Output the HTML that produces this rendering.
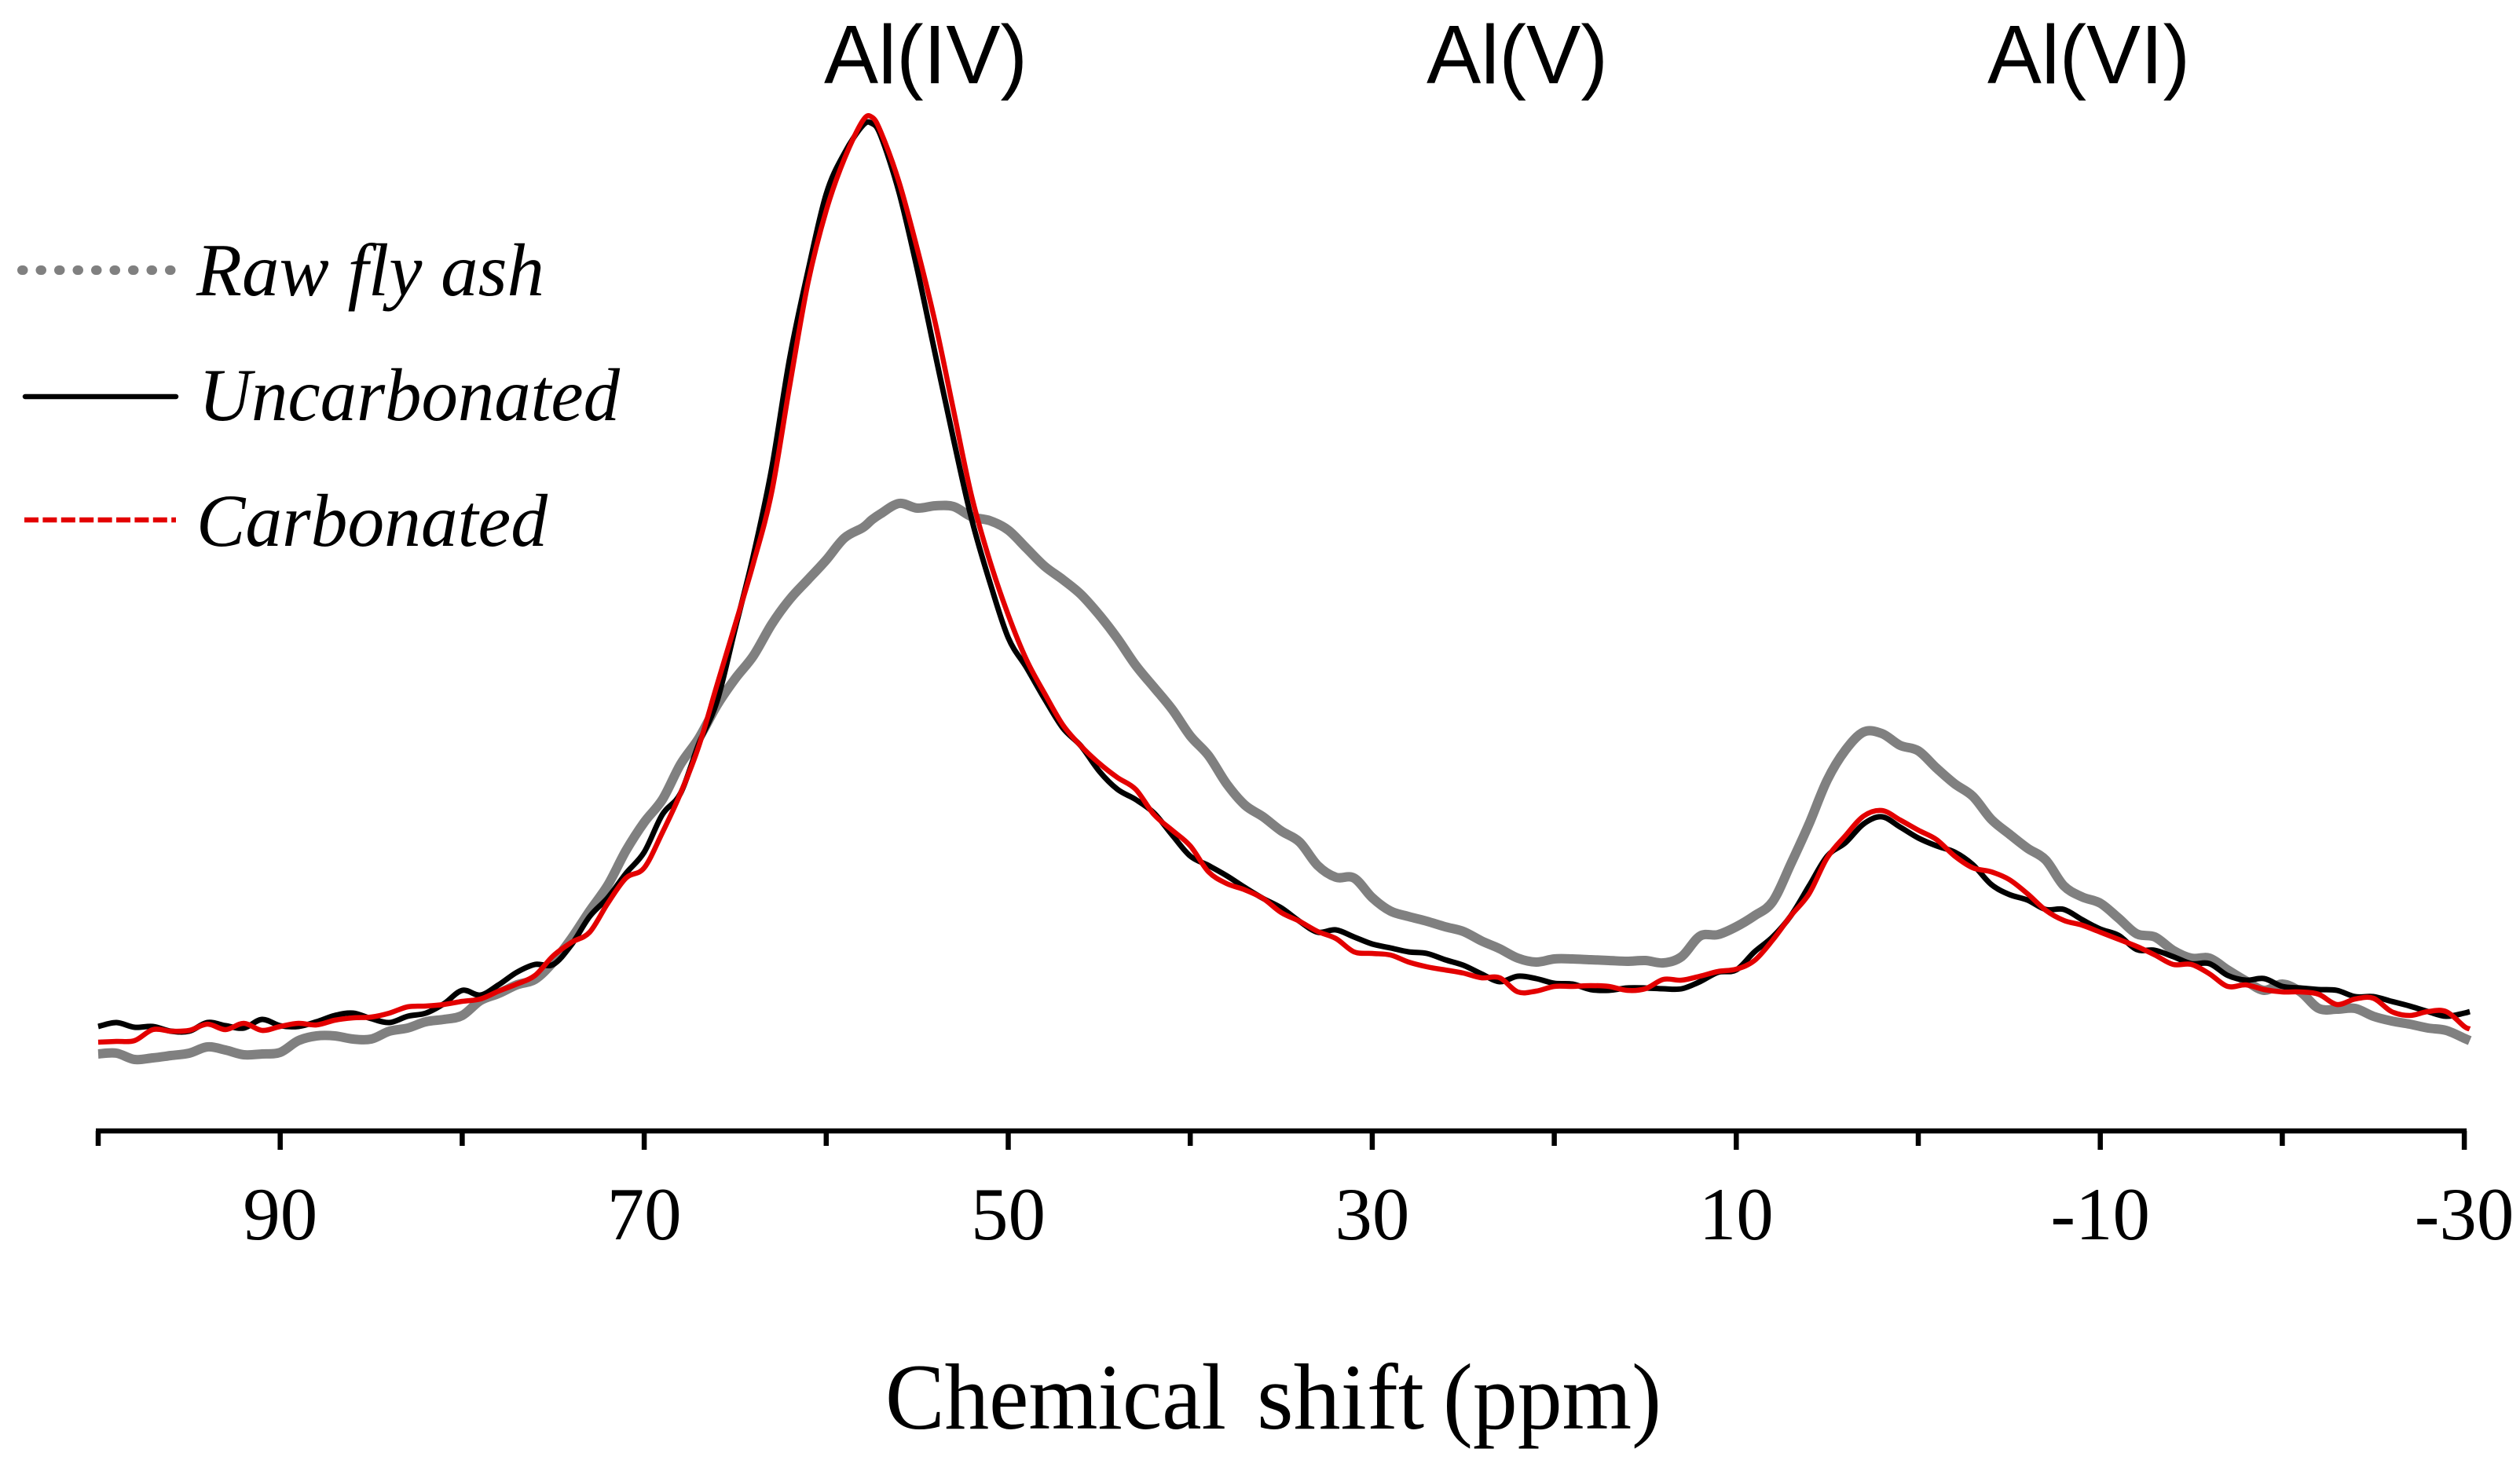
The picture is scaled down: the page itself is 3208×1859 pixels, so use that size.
<!DOCTYPE html>
<html lang="en">
<head>
<meta charset="utf-8">
<title>27Al NMR spectra</title>
<style>
html,body{margin:0;padding:0;background:#fff;}
svg{display:block;}
text{fill:#000;}
.serif{font-family:"Liberation Serif",serif;}
.sans{font-family:"Liberation Sans",sans-serif;}
</style>
</head>
<body>
<svg id="chart" xmlns="http://www.w3.org/2000/svg" width="3208" height="1859" viewBox="0 0 3208 1859">
  <rect x="0" y="0" width="3208" height="1859" fill="#ffffff"/>

  <g id="series"></g>
  <g id="axis"></g>

  <text class="sans" x="1049" y="106" font-size="106" textLength="259" lengthAdjust="spacingAndGlyphs">Al(IV)</text>
  <text class="sans" x="1816" y="106" font-size="106" textLength="231" lengthAdjust="spacingAndGlyphs">Al(V)</text>
  <text class="sans" x="2530" y="106" font-size="106" textLength="258" lengthAdjust="spacingAndGlyphs">Al(VI)</text>

  <g>
    <g>
      <line x1="28" y1="344" x2="218" y2="344" stroke="#808080" stroke-width="12" stroke-linecap="round" stroke-dasharray="1.5 22"/>
      <text class="serif" x="250" y="376" font-size="95" font-style="italic" textLength="443" lengthAdjust="spacingAndGlyphs">Raw fly ash</text>
    </g>
    <g>
      <line x1="32" y1="505" x2="224" y2="505" stroke="#000000" stroke-width="6.5" stroke-linecap="round"/>
      <text class="serif" x="253" y="535" font-size="95" font-style="italic" textLength="536" lengthAdjust="spacingAndGlyphs">Uncarbonated</text>
    </g>
    <g>
      <line x1="31" y1="662" x2="224" y2="662" stroke="#e30000" stroke-width="6.5" stroke-dasharray="18 5.4"/>
      <text class="serif" x="250" y="695" font-size="95" font-style="italic" textLength="447" lengthAdjust="spacingAndGlyphs">Carbonated</text>
    </g>
  </g>

  <text class="serif" y="1819" font-size="120"><tspan x="1127" textLength="434" lengthAdjust="spacingAndGlyphs">Chemical</tspan> <tspan x="1600" textLength="213" lengthAdjust="spacingAndGlyphs">shift</tspan> <tspan x="1837" textLength="278" lengthAdjust="spacingAndGlyphs">(ppm)</tspan></text>
</svg>

<script>
// Chemical shift categories (ppm)
var ppm = [100,99,98,97,96,95,94,93,92,91,
  90,89,88,87,86,85,84,83,82,81,
  80,79,78,77,76,75,74,73,72,71,
  70,69,68,67,66,65,64,63,62,61,
  60,59,58,57.5,
  57,56,55,54,53,52,51,50,49,48,
  47,46,45,44,43,42,41,40,39,38,
  37,36,35,34,33,32,31,30,29,28,
  27,26,25,24,23,22,21,20,19,18,
  17,16,15,14,13,12,11,10,9,8,
  7,6,5,4,3,2,1,0,-1,-2,
  -3,-4,-5,-6,-7,-8,-9,-10,-11,-12,
  -13,-14,-15,-16,-17,-18,-19,-20,-21,-22,
  -23,-24,-25,-26,-27,-28,-29,-30,-30.3];

// Intensity (arbitrary units)
var rawFlyAsh = [98,99,91,93,96,99,107,103,97,98,
  100,115,121,121,117,117,127,131,139,142,
  147,166,175,186,193,215,245,280,313,357,
  393,422,467,500,542,576,605,645,677,702,
  727,755,768,778,
  786,799,793,796,795,782,777,765,742,719,
  702,683,657,627,593,565,537,503,478,442,
  415,400,382,368,338,323,322,297,280,273,
  267,260,254,242,232,220,215,219,219,218,
  217,216,217,214,222,248,250,260,274,292,
  340,391,447,485,508,506,491,484,462,442,
  426,397,378,360,345,312,298,290,271,251,
  247,230,220,220,205,191,179,187,177,156,
  155,156,146,140,136,131,128,118,115];

var uncarbonated = [133,138,132,133,127,127,138,134,131,142,
  134,133,139,147,150,143,138,146,150,162,
  179,173,186,202,212,212,237,273,297,328,
  355,403,430,493,547,640,733,843,985,1095,
  1193,1245,1280,1283,
  1267,1195,1097,988,880,778,698,628,590,550,
  513,490,458,435,422,405,377,350,338,325,
  310,296,284,267,253,256,247,238,233,228,
  226,218,211,200,190,197,194,188,187,180,
  179,182,182,181,181,190,202,205,228,247,
  274,312,350,367,391,400,387,373,363,355,
  339,314,301,294,282,282,269,257,249,231,
  230,222,213,213,198,192,194,184,182,180,
  179,171,171,165,159,152,146,150,152];

var carbonated = [113,114,115,129,127,128,136,129,137,128,
  133,137,135,141,144,145,150,158,159,161,
  165,168,178,187,198,223,240,253,290,322,
  335,380,430,490,568,645,723,813,950,1080,
  1172,1238,1286,1291,
  1272,1208,1123,1028,917,807,725,657,600,557,
  517,490,468,450,435,403,383,363,330,315,
  307,296,278,267,254,245,228,226,224,215,
  209,205,201,195,195,177,178,184,184,185,
  184,179,181,193,192,197,203,206,217,243,
  274,302,348,376,401,408,396,383,371,350,
  335,330,320,302,281,268,262,253,244,235,
  224,212,212,200,184,186,180,177,177,174,
  161,168,169,152,147,152,152,133,130];

// Axis tick values
var majorTicks = [90,70,50,30,10,-10,-30];
var minorTicks = [100,80,60,40,20,0,-20];

var SVGNS = 'http://www.w3.org/2000/svg';
var axisY = 1440;

function xScale(p){ return 125 + (100 - p) * 23.17; }
function yScale(v){ return axisY - v; }

function smoothPath(xs, ys){
  var pts = xs.map(function(p, i){ return [xScale(p), yScale(ys[i])]; });
  var d = 'M' + pts[0][0].toFixed(1) + ' ' + pts[0][1].toFixed(1);
  for (var i = 0; i < pts.length - 1; i++){
    var p0 = pts[Math.max(i - 1, 0)], p1 = pts[i], p2 = pts[i + 1], p3 = pts[Math.min(i + 2, pts.length - 1)];
    var c1x = p1[0] + (p2[0] - p0[0]) / 6, c1y = p1[1] + (p2[1] - p0[1]) / 6;
    var c2x = p2[0] - (p3[0] - p1[0]) / 6, c2y = p2[1] - (p3[1] - p1[1]) / 6;
    d += 'C' + c1x.toFixed(1) + ' ' + c1y.toFixed(1) + ' ' + c2x.toFixed(1) + ' ' + c2y.toFixed(1) + ' ' + p2[0].toFixed(1) + ' ' + p2[1].toFixed(1);
  }
  return d;
}

var seriesGroup = document.getElementById('series');

var rawPath = document.createElementNS(SVGNS, 'path');


rawPath.setAttribute('d', smoothPath(ppm, rawFlyAsh));
rawPath.setAttribute('fill', 'none');
rawPath.setAttribute('stroke', '#808080');
rawPath.setAttribute('stroke-width', '12');
rawPath.setAttribute('stroke-linejoin', 'round');
seriesGroup.appendChild(rawPath);

var uncPath = document.createElementNS(SVGNS, 'path');


uncPath.setAttribute('d', smoothPath(ppm, uncarbonated));
uncPath.setAttribute('fill', 'none');
uncPath.setAttribute('stroke', '#000000');
uncPath.setAttribute('stroke-width', '7');
uncPath.setAttribute('stroke-linejoin', 'round');
seriesGroup.appendChild(uncPath);

var carbPath = document.createElementNS(SVGNS, 'path');


carbPath.setAttribute('d', smoothPath(ppm, carbonated));
carbPath.setAttribute('fill', 'none');
carbPath.setAttribute('stroke', '#e30000');
carbPath.setAttribute('stroke-width', '6.5');
carbPath.setAttribute('stroke-linejoin', 'round');
seriesGroup.appendChild(carbPath);

var axisGroup = document.getElementById('axis');

var axisLine = document.createElementNS(SVGNS, 'line');


axisLine.setAttribute('x1', xScale(100) - 3);
axisLine.setAttribute('x2', xScale(-30) + 3);
axisLine.setAttribute('y1', axisY);
axisLine.setAttribute('y2', axisY);
axisLine.setAttribute('stroke', '#000000');
axisLine.setAttribute('stroke-width', '6.5');
axisGroup.appendChild(axisLine);

minorTicks.forEach(function(t){
  var tick = document.createElementNS(SVGNS, 'line');
  
  
  tick.setAttribute('x1', xScale(t));
  tick.setAttribute('x2', xScale(t));
  tick.setAttribute('y1', axisY);
  tick.setAttribute('y2', axisY + 19);
  tick.setAttribute('stroke', '#000000');
  tick.setAttribute('stroke-width', '6.5');
  axisGroup.appendChild(tick);
});

majorTicks.forEach(function(t){
  var tick = document.createElementNS(SVGNS, 'line');
  
  
  tick.setAttribute('x1', xScale(t));
  tick.setAttribute('x2', xScale(t));
  tick.setAttribute('y1', axisY);
  tick.setAttribute('y2', axisY + 24);
  tick.setAttribute('stroke', '#000000');
  tick.setAttribute('stroke-width', '6.5');
  axisGroup.appendChild(tick);

  var label = document.createElementNS(SVGNS, 'text');
  
  
  label.setAttribute('class', 'serif');
  label.setAttribute('x', xScale(t));
  label.setAttribute('y', axisY + 138);
  label.setAttribute('font-size', '95');
  label.setAttribute('text-anchor', 'middle');
  label.textContent = String(t);
  axisGroup.appendChild(label);
});
</script>
</body>
</html>
